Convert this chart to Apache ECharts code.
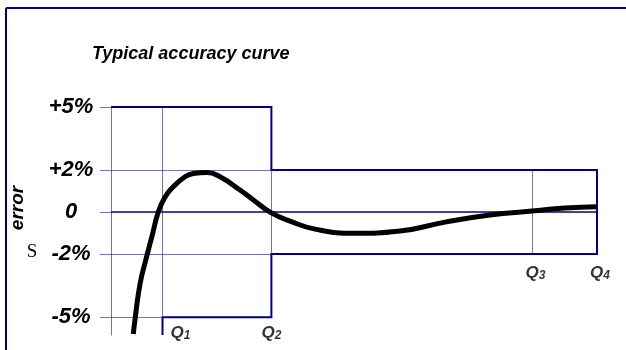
<!DOCTYPE html>
<html>
<head>
<meta charset="utf-8">
<script src="https://cdn.jsdelivr.net/npm/echarts@6/dist/echarts.min.js"></script>
<style>
  html, body { margin: 0; padding: 0; background: #fff; }
  #chart { width: 626px; height: 350px; }
</style>
</head>
<body>
<div id="chart"></div>
<script>
// flow positions (x, % of Q4 span) and their labels
const qNames = ['1', '2', '3', '4'];
const qPos = [10.6, 33.0, 86.7, 100];
const qLabelLevel = [-5, -5, -2, -2];   // which bound the label sits under

// error ticks on the y axis (%)
const yTicks = [5, 2, 0, -2, -5];

// typical accuracy curve
const curveX = [4.59, 5.0, 5.97, 7.2, 8.44, 9.73, 11.0, 12.49, 15.23, 16.93, 19.75, 22.43, 26.54, 29.63,
  32.72, 36.83, 41.98, 50.2, 59.47, 68.72, 77.98, 86.63, 93.42, 100];
const curveY = [-5.8, -5.0, -3.43, -2.24, -1.14, 0, 0.67, 1.13, 1.68, 1.84, 1.88, 1.68, 1.05, 0.52,
  0, -0.43, -0.81, -1.01, -0.9, -0.48, -0.14, 0.05, 0.19, 0.25];

const NAVY = '#000080';
const LIGHT = 'rgba(0,0,128,0.55)';
const FONT = 'Liberation Sans, Arial, sans-serif';
const Q1 = qPos[0], Q2 = qPos[1], Q3 = qPos[2], Q4 = qPos[3];

// grid segments built from the ticks and flow positions
const lightSegs = [
  [[0, 2], [Q2, 2]],
  [[0, -2], [Q2, -2]],
  [[0, -5], [Q1, -5]],
  [[Q1, 5], [Q1, -5]],
  [[Q2, 2], [Q2, -2]],
  [[Q3, 2], [Q3, -2]]
];
const envelope = [[0, 5], [Q2, 5], [Q2, 2], [Q4, 2], [Q4, -2], [Q2, -2], [Q2, -5], [Q1, -5], [Q1, -5.85]];

const chart = echarts.init(document.getElementById('chart'), null, { renderer: 'canvas' });

chart.setOption({
  animation: false,
  backgroundColor: '#fff',
  title: {
    text: 'Typical accuracy curve',
    left: 87, top: 40,
    textStyle: { fontFamily: FONT, fontSize: 18, fontWeight: 'bold', fontStyle: 'italic', color: '#000' }
  },
  grid: { left: 111, right: 29, top: 107, bottom: 15 },
  xAxis: { type: 'value', min: 0, max: 100, show: false },
  yAxis: {
    type: 'value', min: -5.85, max: 5,
    axisLine: { show: true, lineStyle: { color: LIGHT, width: 1 } },
    axisTick: { show: true, customValues: yTicks, length: 11, lineStyle: { color: LIGHT, width: 1 } },
    splitLine: { show: false },
    axisLabel: {
      customValues: yTicks, align: 'center', margin: 40,
      fontFamily: FONT, fontSize: 22, fontWeight: 'bold', fontStyle: 'italic', color: '#000',
      formatter: v => v > 0 ? '+' + v + '%' : (v === 0 ? '0' : v + '%')
    }
  },
  series: [
    {
      type: 'lines', coordinateSystem: 'cartesian2d', silent: true,
      lineStyle: { color: LIGHT, width: 1, opacity: 1 },
      data: lightSegs.map(s => ({ coords: s }))
    },
    {
      type: 'lines', coordinateSystem: 'cartesian2d', silent: true,
      lineStyle: { color: NAVY, width: 1.6, opacity: 1 },
      data: [{ coords: [[0, 0], [Q4, 0]] }]
    },
    {
      type: 'lines', coordinateSystem: 'cartesian2d', polyline: true, silent: true,
      lineStyle: { color: NAVY, width: 2, opacity: 1 },
      data: [{ coords: envelope }]
    },
    {
      type: 'line', silent: true, showSymbol: false, smooth: 0.5,
      lineStyle: { color: '#000', width: 5, cap: 'butt' },
      data: curveX.map((x, i) => [x, curveY[i]])
    },
    {
      type: 'scatter', silent: true, symbolSize: 0,
      data: qPos.map((x, i) => ({
        value: [x, qLabelLevel[i]],
        label: { offset: [i === 0 ? 18 : (i === 1 ? 0 : 3), i < 2 ? 0 : 3] }
      })),
      label: {
        show: true, position: 'bottom', distance: 7,
        formatter: p => '{q|Q}{s|' + qNames[p.dataIndex] + '}',
        rich: {
          q: { fontFamily: FONT, fontSize: 17, fontWeight: 'bold', fontStyle: 'italic', color: '#000', lineHeight: 18 },
          s: { fontFamily: FONT, fontSize: 12, fontWeight: 'bold', fontStyle: 'italic', color: '#000',
               verticalAlign: 'bottom', lineHeight: 12, padding: [7, 0, 0, 0] }
        }
      }
    }
  ],
  graphic: [
    { type: 'line', shape: { x1: 6, y1: 8, x2: 626, y2: 8 }, style: { stroke: NAVY, lineWidth: 2 } },
    { type: 'line', shape: { x1: 6, y1: 8, x2: 6, y2: 350 }, style: { stroke: NAVY, lineWidth: 2 } },
    {
      type: 'text', x: 18, y: 208, rotation: Math.PI / 2,
      style: { text: 'error', font: 'italic bold 19px ' + FONT, fill: '#000', align: 'center', verticalAlign: 'middle' }
    },
    {
      type: 'text', x: 32, y: 252,
      style: { text: 'S', font: '19px Liberation Serif, Times New Roman, serif', fill: '#000', align: 'center', verticalAlign: 'middle' }
    }
  ]
});
</script>
</body>
</html>
